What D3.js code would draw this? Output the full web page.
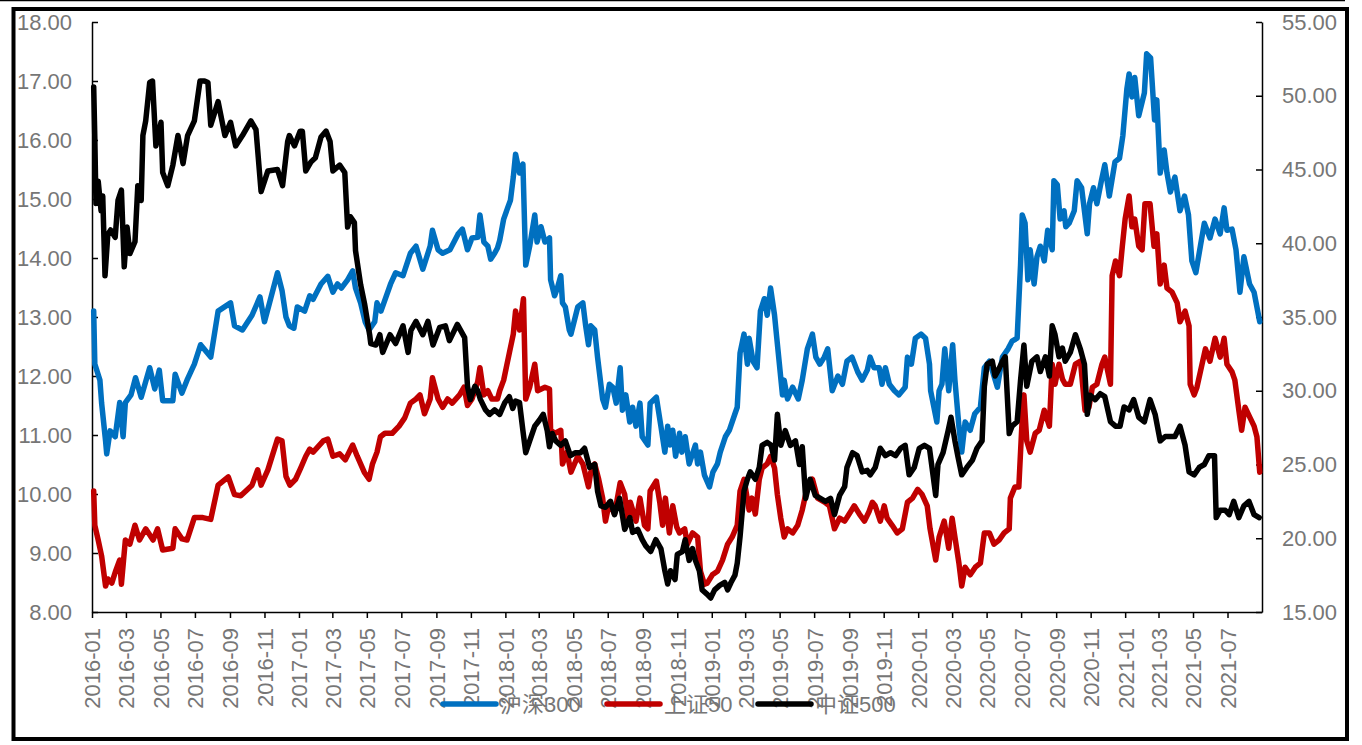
<!DOCTYPE html>
<html lang="zh">
<head>
<meta charset="utf-8">
<script src="https://cdn.jsdelivr.net/npm/d3@7/dist/d3.min.js"></script>
<style>
  body { margin: 0; background: #fff; }
  svg text { font-family: "Liberation Sans", Arial, "Noto Sans CJK SC", sans-serif; }
</style>
<title>PE</title>
</head>
<body>
<svg id="chart" width="1362" height="745"></svg>
<script>
// 沪深300 (left axis)
var hs300 = [
["2016-01-04",13.10],["2016-01-06",12.20],["2016-01-15",11.93],["2016-01-18",11.54],["2016-01-25",10.90],["2016-01-27",10.68],
["2016-02-02",11.07],["2016-02-11",10.97],["2016-02-19",11.55],["2016-02-25",10.97],["2016-02-29",11.55],["2016-03-10",11.68],
["2016-03-18",11.97],["2016-03-28",11.64],["2016-04-12",12.14],["2016-04-21",11.78],["2016-04-29",12.10],["2016-05-05",11.58],
["2016-05-23",11.58],["2016-05-27",12.03],["2016-06-08",11.71],["2016-06-17",11.93],["2016-06-30",12.20],["2016-07-11",12.53],
["2016-07-29",12.32],["2016-08-11",13.10],["2016-09-02",13.24],["2016-09-09",12.85],["2016-09-23",12.78],["2016-10-10",13.03],
["2016-10-24",13.34],["2016-11-01",12.92],["2016-11-10",13.24],["2016-11-24",13.75],["2016-12-02",13.45],["2016-12-09",13.00],
["2016-12-15",12.85],["2016-12-23",12.81],["2016-12-29",13.17],["2017-01-11",13.10],["2017-01-20",13.36],["2017-01-26",13.30],
["2017-02-09",13.56],["2017-02-21",13.69],["2017-03-02",13.42],["2017-03-10",13.56],["2017-03-17",13.49],["2017-03-28",13.63],
["2017-04-06",13.78],["2017-04-11",13.49],["2017-04-20",13.24],["2017-04-28",12.92],["2017-05-05",12.78],["2017-05-15",12.92],
["2017-05-19",13.24],["2017-05-26",13.10],["2017-06-12",13.56],["2017-06-21",13.75],["2017-07-04",13.70],["2017-07-17",14.08],
["2017-07-27",14.20],["2017-08-08",13.81],["2017-08-21",14.20],["2017-08-25",14.47],["2017-09-04",14.14],["2017-09-12",14.08],
["2017-09-25",14.14],["2017-10-09",14.40],["2017-10-17",14.49],["2017-10-26",14.14],["2017-11-03",14.34],["2017-11-13",14.35],
["2017-11-17",14.73],["2017-11-24",14.27],["2017-12-01",14.20],["2017-12-06",13.98],["2017-12-13",14.08],["2017-12-18",14.17],
["2017-12-22",14.30],["2017-12-29",14.66],["2018-01-05",14.85],["2018-01-10",14.98],["2018-01-15",15.37],["2018-01-19",15.76],
["2018-01-26",15.44],["2018-02-01",15.59],["2018-02-06",13.88],["2018-02-13",14.20],["2018-02-22",14.73],["2018-02-26",14.27],
["2018-03-05",14.53],["2018-03-12",14.27],["2018-03-20",14.34],["2018-03-22",13.63],["2018-03-29",13.36],["2018-04-03",13.49],
["2018-04-09",13.70],["2018-04-12",13.24],["2018-04-17",13.17],["2018-04-24",12.78],["2018-04-27",12.71],["2018-05-09",13.17],
["2018-05-18",13.24],["2018-05-23",12.85],["2018-05-28",12.53],["2018-06-01",12.85],["2018-06-08",12.78],["2018-06-13",12.32],
["2018-06-22",11.61],["2018-06-27",11.47],["2018-07-04",11.86],["2018-07-10",11.81],["2018-07-16",11.54],["2018-07-23",12.14],
["2018-07-27",11.42],["2018-08-02",11.68],["2018-08-09",11.22],["2018-08-14",11.47],["2018-08-20",11.15],["2018-08-27",11.54],
["2018-08-31",10.97],["2018-09-10",10.83],["2018-09-14",11.54],["2018-09-25",11.64],["2018-10-03",11.15],["2018-10-10",10.71],
["2018-10-15",11.15],["2018-10-19",10.83],["2018-10-24",11.08],["2018-10-29",10.64],["2018-11-05",11.03],["2018-11-09",10.71],
["2018-11-15",10.97],["2018-11-22",10.51],["2018-12-03",10.83],["2018-12-07",10.51],["2018-12-12",10.71],["2018-12-19",10.32],
["2018-12-28",10.12],["2019-01-03",10.37],["2019-01-11",10.51],["2019-01-16",10.71],["2019-01-25",10.97],["2019-02-01",11.08],
["2019-02-11",11.36],["2019-02-15",11.47],["2019-02-20",12.39],["2019-02-27",12.71],["2019-03-05",12.20],["2019-03-08",12.64],
["2019-03-15",12.25],["2019-03-22",12.14],["2019-03-28",13.10],["2019-04-04",13.31],["2019-04-09",13.03],["2019-04-15",13.49],
["2019-04-22",13.03],["2019-04-26",12.64],["2019-05-06",11.68],["2019-05-09",11.93],["2019-05-15",11.61],["2019-05-24",11.81],
["2019-06-03",11.61],["2019-06-10",11.93],["2019-06-19",12.46],["2019-06-28",12.71],["2019-07-04",12.32],["2019-07-11",12.20],
["2019-07-19",12.32],["2019-07-25",12.46],["2019-08-02",11.75],["2019-08-12",12.00],["2019-08-20",11.86],["2019-08-28",12.25],
["2019-09-06",12.32],["2019-09-16",12.07],["2019-09-24",11.93],["2019-10-03",12.10],["2019-10-08",12.32],["2019-10-15",12.14],
["2019-10-24",12.14],["2019-10-29",11.86],["2019-11-04",12.14],["2019-11-11",11.86],["2019-11-20",11.75],["2019-11-28",11.68],
["2019-12-09",11.81],["2019-12-13",12.32],["2019-12-20",12.20],["2019-12-27",12.64],["2020-01-06",12.71],["2020-01-14",12.64],
["2020-01-21",12.20],["2020-01-23",11.75],["2020-02-03",11.22],["2020-02-07",11.75],["2020-02-12",11.86],["2020-02-17",12.46],
["2020-02-24",11.75],["2020-03-02",12.53],["2020-03-06",11.93],["2020-03-13",11.15],["2020-03-18",10.71],["2020-03-24",11.22],
["2020-04-02",11.08],["2020-04-10",11.36],["2020-04-20",11.47],["2020-04-27",12.14],["2020-05-06",12.25],["2020-05-14",12.00],
["2020-05-20",11.81],["2020-05-29",12.32],["2020-06-08",12.46],["2020-06-15",12.59],["2020-06-24",12.64],["2020-06-30",13.88],
["2020-07-03",14.73],["2020-07-08",14.59],["2020-07-13",13.63],["2020-07-17",14.14],["2020-07-24",13.56],["2020-07-29",14.02],
["2020-08-04",14.20],["2020-08-11",13.95],["2020-08-17",14.47],["2020-08-25",14.14],["2020-08-28",15.31],["2020-09-03",15.24],
["2020-09-08",14.66],["2020-09-15",14.80],["2020-09-18",14.53],["2020-09-24",14.59],["2020-10-03",14.80],["2020-10-08",15.31],
["2020-10-16",15.19],["2020-10-26",14.41],["2020-10-30",14.92],["2020-11-06",15.19],["2020-11-12",14.92],["2020-11-20",15.31],
["2020-11-26",15.58],["2020-12-04",15.05],["2020-12-14",15.63],["2020-12-22",15.69],["2020-12-28",16.08],["2021-01-04",16.86],
["2021-01-08",17.12],["2021-01-13",16.73],["2021-01-18",17.06],["2021-01-25",16.41],["2021-02-04",16.80],["2021-02-08",17.46],
["2021-02-15",17.39],["2021-02-22",16.34],["2021-02-26",16.68],["2021-03-04",15.44],["2021-03-11",15.83],["2021-03-16",15.44],
["2021-03-22",15.12],["2021-03-30",15.37],["2021-04-08",14.80],["2021-04-16",15.05],["2021-04-23",14.73],["2021-04-29",13.95],
["2021-05-06",13.75],["2021-05-14",14.20],["2021-05-21",14.59],["2021-05-31",14.34],["2021-06-09",14.66],["2021-06-18",14.41],
["2021-06-25",14.85],["2021-06-30",14.47],["2021-07-09",14.49],["2021-07-16",14.14],["2021-07-23",13.42],["2021-07-30",14.02],
["2021-08-09",13.56],["2021-08-17",13.42],["2021-08-27",12.92]
];

// 上证50 (left axis)
var sz50 = [
["2016-01-04",10.05],["2016-01-06",9.47],["2016-01-12",9.22],["2016-01-18",8.95],["2016-01-25",8.44],["2016-01-29",8.56],
["2016-02-05",8.49],["2016-02-12",8.70],["2016-02-19",8.88],["2016-02-22",8.47],["2016-02-29",9.22],["2016-03-08",9.15],
["2016-03-17",9.47],["2016-03-25",9.22],["2016-04-05",9.41],["2016-04-18",9.22],["2016-04-26",9.41],["2016-05-05",9.05],
["2016-05-23",9.08],["2016-05-27",9.41],["2016-06-08",9.24],["2016-06-17",9.22],["2016-06-30",9.60],["2016-07-15",9.60],
["2016-07-29",9.57],["2016-08-11",10.15],["2016-08-29",10.29],["2016-09-09",9.99],["2016-09-20",9.97],["2016-10-10",10.15],
["2016-10-20",10.41],["2016-10-26",10.15],["2016-11-07",10.41],["2016-11-24",10.93],["2016-12-02",10.90],["2016-12-09",10.30],
["2016-12-16",10.15],["2016-12-26",10.25],["2017-01-04",10.44],["2017-01-13",10.64],["2017-01-20",10.76],["2017-01-26",10.71],
["2017-02-13",10.90],["2017-02-21",10.93],["2017-03-02",10.64],["2017-03-14",10.68],["2017-03-24",10.58],["2017-04-06",10.83],
["2017-04-14",10.64],["2017-04-27",10.36],["2017-05-05",10.25],["2017-05-11",10.51],["2017-05-19",10.71],["2017-05-25",10.97],
["2017-06-02",11.03],["2017-06-15",11.03],["2017-06-27",11.15],["2017-07-07",11.29],["2017-07-17",11.54],["2017-07-27",11.61],
["2017-08-03",11.68],["2017-08-11",11.36],["2017-08-21",11.61],["2017-08-25",11.97],["2017-09-04",11.61],["2017-09-12",11.47],
["2017-09-21",11.61],["2017-09-29",11.54],["2017-10-12",11.68],["2017-10-20",11.81],["2017-10-26",11.50],["2017-11-03",11.61],
["2017-11-13",11.90],["2017-11-17",12.14],["2017-11-24",11.68],["2017-12-01",11.75],["2017-12-08",11.61],["2017-12-18",11.61],
["2017-12-22",11.75],["2017-12-29",11.93],["2018-01-08",12.39],["2018-01-15",12.71],["2018-01-19",13.10],["2018-01-26",12.78],
["2018-02-02",13.31],["2018-02-06",11.61],["2018-02-13",11.81],["2018-02-22",12.20],["2018-02-27",11.75],["2018-03-12",11.81],
["2018-03-20",11.78],["2018-03-22",11.08],["2018-03-30",11.03],["2018-04-09",11.08],["2018-04-12",10.51],["2018-04-20",10.71],
["2018-04-27",10.37],["2018-05-09",10.64],["2018-05-18",10.51],["2018-05-28",10.12],["2018-06-01",10.37],["2018-06-08",10.51],
["2018-06-15",10.25],["2018-06-22",9.93],["2018-06-27",9.54],["2018-07-04",9.86],["2018-07-13",9.66],["2018-07-23",10.19],
["2018-07-31",9.99],["2018-08-06",9.54],["2018-08-10",9.86],["2018-08-20",9.54],["2018-08-27",9.93],["2018-09-04",9.47],
["2018-09-10",9.41],["2018-09-14",10.05],["2018-09-25",10.22],["2018-10-01",9.86],["2018-10-06",9.47],["2018-10-11",9.93],
["2018-10-18",9.34],["2018-10-24",9.80],["2018-10-31",9.44],["2018-11-05",9.34],["2018-11-14",9.41],["2018-11-19",9.15],
["2018-11-28",9.34],["2018-12-07",9.27],["2018-12-12",8.69],["2018-12-19",8.47],["2018-12-24",8.49],["2019-01-02",8.63],
["2019-01-11",8.69],["2019-01-20",8.88],["2019-01-29",9.15],["2019-02-06",9.27],["2019-02-15",9.47],["2019-02-20",10.05],
["2019-02-27",10.25],["2019-03-08",9.73],["2019-03-13",9.93],["2019-03-19",9.66],["2019-03-26",10.25],["2019-03-31",10.44],
["2019-04-09",10.51],["2019-04-15",10.64],["2019-04-22",10.44],["2019-04-27",9.99],["2019-05-03",9.59],["2019-05-09",9.27],
["2019-05-15",9.41],["2019-05-24",9.34],["2019-06-02",9.47],["2019-06-10",9.73],["2019-06-19",10.12],["2019-06-28",10.25],
["2019-07-07",9.93],["2019-07-20",9.86],["2019-07-28",9.80],["2019-08-06",9.41],["2019-08-15",9.59],["2019-08-24",9.54],
["2019-09-01",9.66],["2019-09-10",9.80],["2019-09-19",9.66],["2019-09-28",9.54],["2019-10-06",9.70],["2019-10-12",9.86],
["2019-10-17",9.80],["2019-10-26",9.54],["2019-11-02",9.80],["2019-11-07",9.59],["2019-11-16",9.47],["2019-11-25",9.34],
["2019-12-04",9.41],["2019-12-13",9.86],["2019-12-22",9.93],["2019-12-31",10.08],["2020-01-08",9.99],["2020-01-17",9.80],
["2020-01-22",9.41],["2020-02-01",8.88],["2020-02-07",9.27],["2020-02-16",9.54],["2020-02-24",9.08],["2020-03-01",9.59],
["2020-03-06",9.27],["2020-03-13",8.83],["2020-03-18",8.44],["2020-03-24",8.76],["2020-04-02",8.63],["2020-04-11",8.76],
["2020-04-20",8.83],["2020-04-27",9.34],["2020-05-06",9.34],["2020-05-14",9.15],["2020-05-23",9.22],["2020-06-01",9.34],
["2020-06-10",9.41],["2020-06-12",9.93],["2020-06-20",10.12],["2020-06-27",10.12],["2020-07-03",11.29],["2020-07-06",11.68],
["2020-07-11",10.90],["2020-07-17",10.71],["2020-07-26",11.03],["2020-08-02",11.08],["2020-08-11",11.42],["2020-08-20",11.15],
["2020-08-25",12.20],["2020-08-30",11.86],["2020-09-06",12.20],["2020-09-12",11.95],["2020-09-17",11.86],["2020-09-26",11.86],
["2020-10-05",12.20],["2020-10-14",12.25],["2020-10-22",11.42],["2020-10-29",11.47],["2020-11-04",11.81],["2020-11-12",11.86],
["2020-11-21",12.20],["2020-11-26",12.32],["2020-12-06",11.86],["2020-12-09",13.70],["2020-12-15",13.95],["2020-12-22",13.70],
["2020-12-27",14.20],["2021-01-01",14.66],["2021-01-08",15.05],["2021-01-13",14.53],["2021-01-18",14.66],["2021-01-25",14.20],
["2021-01-31",14.14],["2021-02-05",14.92],["2021-02-14",14.92],["2021-02-21",14.20],["2021-02-26",14.41],["2021-03-04",13.56],
["2021-03-11",13.88],["2021-03-16",13.49],["2021-03-25",13.42],["2021-04-03",13.24],["2021-04-08",12.92],["2021-04-17",13.10],
["2021-04-24",12.85],["2021-04-26",11.86],["2021-05-03",11.68],["2021-05-08",11.81],["2021-05-17",12.20],["2021-05-23",12.46],
["2021-05-31",12.25],["2021-06-09",12.64],["2021-06-18",12.32],["2021-06-25",12.64],["2021-06-30",12.20],["2021-07-09",12.07],
["2021-07-14",11.93],["2021-07-21",11.42],["2021-07-26",11.08],["2021-08-01",11.47],["2021-08-10",11.29],["2021-08-17",11.15],
["2021-08-22",10.97],["2021-08-27",10.37]
];

// 中证500 (right axis)
var zz500 = [
["2016-01-04",50.6],["2016-01-06",47.1],["2016-01-08",42.7],["2016-01-12",44.2],["2016-01-17",42.2],["2016-01-20",43.2],
["2016-01-24",37.8],["2016-01-29",40.6],["2016-02-03",40.9],["2016-02-11",40.4],["2016-02-16",42.9],["2016-02-22",43.6],
["2016-02-27",38.4],["2016-03-03",41.1],["2016-03-08",39.3],["2016-03-17",40.1],["2016-03-22",43.9],["2016-03-28",42.9],
["2016-03-31",47.3],["2016-04-05",48.3],["2016-04-12",50.9],["2016-04-17",51.0],["2016-04-23",46.6],["2016-05-02",48.2],
["2016-05-05",44.8],["2016-05-14",43.9],["2016-05-23",45.3],["2016-06-01",47.3],["2016-06-10",45.4],["2016-06-18",47.3],
["2016-06-30",48.3],["2016-07-10",51.0],["2016-07-18",51.0],["2016-07-24",50.9],["2016-07-29",48.0],["2016-08-11",49.6],
["2016-08-23",47.3],["2016-09-02",48.2],["2016-09-11",46.6],["2016-09-23",47.3],["2016-10-08",48.3],["2016-10-17",47.7],
["2016-10-26",43.5],["2016-11-07",44.9],["2016-11-24",45.0],["2016-12-03",43.9],["2016-12-12",46.9],["2016-12-15",47.3],
["2016-12-24",46.6],["2017-01-03",47.6],["2017-01-07",47.6],["2017-01-13",44.9],["2017-01-22",45.5],["2017-01-30",45.8],
["2017-02-09",47.2],["2017-02-18",47.6],["2017-02-25",46.9],["2017-03-02",44.9],["2017-03-14",45.3],["2017-03-23",44.8],
["2017-03-28",41.1],["2017-04-02",41.8],["2017-04-09",41.4],["2017-04-11",39.5],["2017-04-20",37.2],["2017-04-27",35.9],
["2017-05-06",33.8],["2017-05-08",33.2],["2017-05-17",33.1],["2017-05-24",33.8],["2017-05-29",32.6],["2017-06-11",33.8],
["2017-06-21",33.2],["2017-07-04",34.4],["2017-07-13",32.6],["2017-07-18",34.1],["2017-07-27",34.7],["2017-08-08",33.8],
["2017-08-17",34.7],["2017-08-26",33.1],["2017-09-07",34.3],["2017-09-17",34.4],["2017-09-24",33.4],["2017-10-08",34.5],
["2017-10-21",33.6],["2017-10-26",30.3],["2017-10-31",29.4],["2017-11-08",30.3],["2017-11-13",30.0],["2017-11-18",29.4],
["2017-11-27",28.7],["2017-12-04",28.4],["2017-12-13",28.7],["2017-12-22",28.4],["2017-12-31",29.2],["2018-01-08",29.6],
["2018-01-14",28.8],["2018-01-19",29.3],["2018-01-26",29.2],["2018-02-01",27.3],["2018-02-06",25.8],["2018-02-13",26.6],
["2018-02-22",27.6],["2018-03-02",28.0],["2018-03-09",28.4],["2018-03-16",27.3],["2018-03-20",26.2],["2018-03-25",27.1],
["2018-03-31",26.6],["2018-04-09",26.3],["2018-04-17",26.6],["2018-04-26",25.6],["2018-05-05",25.8],["2018-05-14",25.8],
["2018-05-21",26.1],["2018-05-30",24.8],["2018-06-08",25.0],["2018-06-13",23.2],["2018-06-19",22.2],["2018-06-27",22.1],
["2018-07-06",22.5],["2018-07-13",21.6],["2018-07-22",22.7],["2018-07-31",20.6],["2018-08-09",21.4],["2018-08-14",20.4],
["2018-08-23",20.6],["2018-08-31",19.9],["2018-09-06",19.5],["2018-09-15",19.1],["2018-09-24",19.9],["2018-10-03",19.3],
["2018-10-10",17.8],["2018-10-15",16.9],["2018-10-20",17.8],["2018-10-28",17.2],["2018-11-01",18.9],["2018-11-10",19.1],
["2018-11-15",19.9],["2018-11-22",18.5],["2018-11-28",19.3],["2018-12-03",18.5],["2018-12-10",17.8],["2018-12-15",16.5],
["2018-12-24",16.2],["2018-12-30",15.95],["2019-01-06",16.5],["2019-01-15",16.8],["2019-01-24",17.0],["2019-01-29",16.5],
["2019-02-04",17.0],["2019-02-11",17.5],["2019-02-15",18.3],["2019-02-20",20.1],["2019-02-27",23.2],["2019-03-05",24.0],
["2019-03-10",24.5],["2019-03-19",24.0],["2019-03-26",24.8],["2019-03-31",26.3],["2019-04-09",26.5],["2019-04-16",26.3],
["2019-04-22",25.3],["2019-04-27",28.4],["2019-05-03",26.3],["2019-05-11",27.3],["2019-05-20",26.3],["2019-05-29",26.6],
["2019-06-05",25.0],["2019-06-10",26.2],["2019-06-16",22.7],["2019-06-24",24.0],["2019-07-03",22.9],["2019-07-12",22.7],
["2019-07-21",22.5],["2019-07-30",22.7],["2019-08-06",21.6],["2019-08-15",22.9],["2019-08-24",23.5],["2019-08-28",24.8],
["2019-09-07",25.8],["2019-09-15",25.6],["2019-09-24",24.5],["2019-10-03",24.6],["2019-10-08",24.3],["2019-10-17",24.8],
["2019-10-26",26.1],["2019-11-04",25.6],["2019-11-13",25.8],["2019-11-22",25.6],["2019-12-01",26.1],["2019-12-09",26.3],
["2019-12-16",24.3],["2019-12-25",24.8],["2020-01-03",26.1],["2020-01-12",26.3],["2020-01-21",26.1],["2020-02-01",22.9],
["2020-02-05",25.0],["2020-02-14",25.8],["2020-02-23",27.3],["2020-02-28",28.2],["2020-03-06",26.6],["2020-03-11",25.6],
["2020-03-18",24.3],["2020-03-27",24.8],["2020-04-06",25.3],["2020-04-14",26.1],["2020-04-23",26.6],["2020-04-27",30.3],
["2020-05-02",31.8],["2020-05-11",32.0],["2020-05-16",31.0],["2020-05-23",31.5],["2020-05-29",32.0],["2020-06-03",32.3],
["2020-06-10",27.1],["2020-06-15",27.6],["2020-06-24",27.9],["2020-06-30",30.7],["2020-07-06",33.1],["2020-07-11",30.3],
["2020-07-20",32.0],["2020-07-29",32.3],["2020-08-04",31.3],["2020-08-13",32.3],["2020-08-20",31.0],["2020-08-25",34.4],
["2020-08-30",33.8],["2020-09-06",32.3],["2020-09-12",32.9],["2020-09-17",32.0],["2020-09-26",32.6],["2020-10-05",33.8],
["2020-10-14",32.8],["2020-10-21",31.8],["2020-10-26",28.4],["2020-10-31",29.7],["2020-11-09",29.4],["2020-11-18",29.8],
["2020-11-26",29.6],["2020-12-06",27.9],["2020-12-15",27.6],["2020-12-23",27.6],["2020-12-30",28.9],["2021-01-08",28.7],
["2021-01-16",29.4],["2021-01-25",28.2],["2021-02-04",27.9],["2021-02-14",29.4],["2021-02-23",28.4],["2021-03-04",26.6],
["2021-03-13",26.9],["2021-03-22",26.9],["2021-03-30",26.9],["2021-04-08",27.6],["2021-04-17",26.3],["2021-04-24",24.5],
["2021-05-03",24.3],["2021-05-12",24.8],["2021-05-21",25.0],["2021-05-29",25.6],["2021-06-08",25.6],["2021-06-11",21.4],
["2021-06-18",21.9],["2021-06-27",21.9],["2021-07-04",21.6],["2021-07-12",22.5],["2021-07-21",21.4],["2021-07-30",22.2],
["2021-08-08",22.5],["2021-08-17",21.6],["2021-08-26",21.4]
];

var leftTicks = [8, 9, 10, 11, 12, 13, 14, 15, 16, 17, 18];
var rightTicks = [15, 20, 25, 30, 35, 40, 45, 50, 55];
var seriesNames = ["沪深300", "上证50", "中证500"];
var seriesColors = ["#0070C0", "#C00000", "#000000"];

var svg = d3.select("#chart");
var gray = "#767676";
var parse = d3.timeParse("%Y-%m-%d");

// plot box
var x0 = 92, x1 = 1262, yTop = 22, yBot = 612;

svg.append("rect").attr("width", 1362).attr("height", 745).attr("fill", "#fff");
svg.append("line").attr("x1", 0).attr("x2", 1345).attr("y1", 0.5).attr("y2", 0.5)
   .attr("stroke", "#000").attr("stroke-width", 1.5);
svg.append("rect")
   .attr("x", 13.5).attr("y", 9).attr("width", 1333.5).attr("height", 730)
   .attr("fill", "none").attr("stroke", "#000").attr("stroke-width", 4);

var x = d3.scaleTime()
   .domain([new Date(2016, 0, 1), new Date(2021, 7, 31)])
   .range([x0, x1]);
var yL = d3.scaleLinear().domain([8, 18]).range([yBot, yTop]);
var yR = d3.scaleLinear().domain([15, 55]).range([yBot, yTop]);

// axes
var gLeft = svg.append("g").attr("transform", "translate(" + x0 + ",0)")
   .call(d3.axisLeft(yL).tickValues(leftTicks).tickFormat(d3.format(".2f"))
      .tickSizeInner(-6).tickSizeOuter(0).tickPadding(20));
var gRight = svg.append("g").attr("transform", "translate(" + x1 + ",0)")
   .call(d3.axisRight(yR).tickValues(rightTicks).tickFormat(d3.format(".2f"))
      .tickSizeInner(-6).tickSizeOuter(0).tickPadding(20));
var gBottom = svg.append("g").attr("transform", "translate(0," + yBot + ")")
   .call(d3.axisBottom(x).ticks(d3.timeMonth.every(2)).tickFormat(d3.timeFormat("%Y-%m"))
      .tickSizeInner(6).tickSizeOuter(0));

gBottom.selectAll(".tick text")
   .attr("transform", "rotate(-90)")
   .attr("text-anchor", "end")
   .attr("x", -16).attr("y", 0).attr("dy", "0.36em");

[gLeft, gRight, gBottom].forEach(function (g) {
   g.select(".domain").attr("stroke", "#000").attr("stroke-width", 1.5);
   g.selectAll(".tick line").attr("stroke", "#000").attr("stroke-width", 1.5);
   g.selectAll(".tick text").attr("fill", gray).style("font-size", "22px");
});

// lines
var lineL = d3.line().x(d => x(parse(d[0]))).y(d => yL(d[1]));
var lineR = d3.line().x(d => x(parse(d[0]))).y(d => yR(d[1]));

[[hs300, lineL], [sz50, lineL], [zz500, lineR]].forEach(function (s, i) {
   svg.append("path")
      .datum(s[0])
      .attr("d", s[1])
      .attr("fill", "none")
      .attr("stroke", seriesColors[i])
      .attr("stroke-width", 5.5)
      .attr("stroke-linejoin", "round")
      .attr("stroke-linecap", "round");
});

// legend
var legendX = [443, 607, 758];
var legend = svg.append("g");
seriesNames.forEach(function (name, i) {
   legend.append("line")
      .attr("x1", legendX[i]).attr("x2", legendX[i] + 53)
      .attr("y1", 704).attr("y2", 704)
      .attr("stroke", seriesColors[i]).attr("stroke-width", 5.5)
      .attr("stroke-linecap", "round");
   legend.append("text")
      .attr("x", legendX[i] + 57).attr("y", 704)
      .attr("dy", "0.35em")
      .attr("fill", gray)
      .style("font-size", "22px")
      .text(name);
});
</script>
</body>
</html>
